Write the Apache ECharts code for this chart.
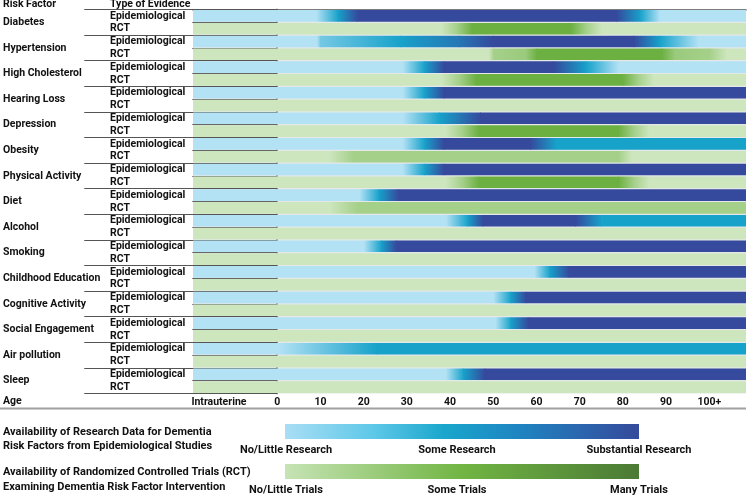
<!DOCTYPE html>
<html><head><meta charset="utf-8">
<script src="https://cdn.jsdelivr.net/npm/echarts@6/dist/echarts.min.js"></script>
<style>html,body{margin:0;padding:0;background:#fff}#c{width:748px;height:495px}</style>
</head><body><div id="c"></div>
<script>
// ---------------- DATA ----------------
const riskFactors = ['Diabetes','Hypertension','High Cholesterol','Hearing Loss','Depression','Obesity','Physical Activity','Diet','Alcohol','Smoking','Childhood Education','Cognitive Activity','Social Engagement','Air pollution','Sleep'];
const evidenceTypes = ['Epidemiological','RCT'];
const ageTickValues = [-13.5,0,10,20,30,40,50,60,70,80,90,100];
const ageTickLabels = ['Intrauterine','0','10','20','30','40','50','60','70','80','90','100+'];
const ageStart = -19.5, ageEnd = 108.5;
// availability level stops [age, level]; level 0 = no/little, 0.5 = some, 1 = substantial / many
const epiStops = [
  [[-19.5,0],[9,0],[14,0.5],[18.5,1],[78.5,1],[84,0.5],[88.5,0],[108.5,0]],
  [[-19.5,0],[9.2,0],[9.9,0.2],[28.5,0.5],[42,0.75],[50,1],[82.5,1],[88.5,0.5],[97.5,0],[108.5,0]],
  [[-19.5,0],[29,0],[34,0.5],[38.5,1],[64,1],[71.5,0.5],[79,0],[108.5,0]],
  [[-19.5,0],[29,0],[34,0.5],[38.5,1],[108.5,1]],
  [[-19.5,0],[29,0],[37.5,0.5],[47,1],[108.5,1]],
  [[-19.5,0],[29,0],[34,0.5],[38.5,1],[58.5,1],[64.5,0.5],[108.5,0.5]],
  [[-19.5,0],[29,0],[34,0.5],[38.5,1],[108.5,1]],
  [[-19.5,0],[19,0],[23.5,0.5],[28,1],[108.5,1]],
  [[-19.5,0],[39,0],[44,0.5],[47.5,1],[69,1],[75,0.5],[108.5,0.5]],
  [[-19.5,0],[20,0],[24,0.5],[27.5,1],[108.5,1]],
  [[-19.5,0],[59.5,0],[63,0.5],[67.5,1],[108.5,1]],
  [[-19.5,0],[50,0],[54,0.5],[57.5,1],[108.5,1]],
  [[-19.5,0],[50.5,0],[54,0.5],[58,1],[108.5,1]],
  [[-19.5,0],[0,0],[23,0.5],[108.5,0.5]],
  [[-19.5,0],[39,0],[43,0.5],[48,1],[108.5,1]]
];
const rctStops = [
  [[-19.5,0],[38,0],[45,0.5],[68,0.5],[75,0],[108.5,0]],
  [[-19.5,0],[49,0],[50,0.25],[57.5,0.3],[60,0.5],[89,0.5],[92,0.3],[100,0.25],[104,0],[108.5,0]],
  [[-19.5,0],[38,0],[46,0.5],[80,0.5],[87,0],[108.5,0]],
  [[-19.5,0],[108.5,0]],
  [[-19.5,0],[39,0],[46.5,0.5],[79,0.5],[86,0],[108.5,0]],
  [[-19.5,0],[12,0],[17.5,0.25],[79,0.25],[82,0],[108.5,0]],
  [[-19.5,0],[39,0],[46.5,0.5],[79,0.5],[86,0],[108.5,0]],
  [[-19.5,0],[12,0],[18.5,0.25],[108.5,0.25]],
  [[-19.5,0],[108.5,0]],
  [[-19.5,0],[108.5,0]],
  [[-19.5,0],[108.5,0]],
  [[-19.5,0],[108.5,0]],
  [[-19.5,0],[108.5,0]],
  [[-19.5,0],[108.5,0]],
  [[-19.5,0],[108.5,0]]
];

// ---------------- STYLE ----------------
const FONT = "Roboto,'Liberation Sans',Arial,sans-serif";
const FS = 10.5;
const bluePal = [[0,[180,226,245]],[0.5,[23,162,202]],[1,[53,73,157]]];
const greenPal = [[0,[205,230,190]],[0.25,[165,208,138]],[0.5,[108,176,66]],[1,[74,122,51]]];

function colorAt(pal, l){
  for (let i=0;i<pal.length-1;i++){
    const a=pal[i], b=pal[i+1];
    if (l>=a[0] && l<=b[0]){
      const t=(l-a[0])/(b[0]-a[0]);
      const c=a[1].map((v,j)=>Math.round(v+(b[1][j]-v)*t));
      return 'rgb('+c.join(',')+')';
    }
  }
  const last = l<pal[0][0]?pal[0]:pal[pal.length-1];
  return 'rgb('+last[1].join(',')+')';
}
function gradStops(pal,l0,l1){
  if (l0===l1){const c=colorAt(pal,l0);return [{offset:0,color:c},{offset:1,color:c}];}
  const s=[{offset:0,color:colorAt(pal,l0)}];
  const lo=Math.min(l0,l1), hi=Math.max(l0,l1);
  pal.forEach(k=>{ if(k[0]>lo && k[0]<hi){ s.push({offset:(k[0]-l0)/(l1-l0),color:colorAt(pal,k[0])}); } });
  s.push({offset:1,color:colorAt(pal,l1)});
  s.sort((a,b)=>a.offset-b.offset);
  return s;
}

// rows: each factor -> epi row, rct row
const rowLabels = [];
const segData = [];
riskFactors.forEach((f,i)=>{
  [epiStops[i], rctStops[i]].forEach((stops,k)=>{
    const row = rowLabels.length;
    rowLabels.push(evidenceTypes[k]);
    for (let j=0;j<stops.length-1;j++){
      segData.push([stops[j][0], row, stops[j+1][0], stops[j][1], stops[j+1][1], k]);
    }
  });
});

function renderItem(params, api){
  const x0=api.value(0), row=api.value(1), x1=api.value(2), l0=api.value(3), l1=api.value(4), kind=api.value(5);
  const p0=api.coord([x0,row]), p1=api.coord([x1,row]);
  const bh=api.size([0,1])[1];
  const h=bh-1.2;
  const pal = kind===0?bluePal:greenPal;
  return {type:'rect', shape:{x:p0[0], y:p0[1]-h/2, width:p1[0]-p0[0]+0.7, height:h},
    style:{fill:new echarts.graphic.LinearGradient(0,0,1,0,gradStops(pal,l0,l1))}};
}

const chart = echarts.init(document.getElementById('c'), null, {renderer:'canvas'});
const bold = {fontFamily:FONT, fontWeight:'bold', fontSize:FS, color:'#111'};
const legBlue = new echarts.graphic.LinearGradient(0,0,1,0,[
  {offset:0,color:'#a9def5'},{offset:0.25,color:'#5ec8e8'},{offset:0.45,color:'#1aa6cc'},{offset:0.65,color:'#1e86c2'},{offset:1,color:'#364a9c'}]);
const legGreen = new echarts.graphic.LinearGradient(0,0,1,0,[
  {offset:0,color:'#c6e3b5'},{offset:0.5,color:'#71b543'},{offset:1,color:'#4b7a35'}]);
const tfont = 'bold '+FS+'px '+FONT;
const lfont = 'bold 11px '+FONT;

chart.setOption({
  backgroundColor:'#fff',
  animation:false,
  grid:{left:193, right:2, top:9.5, bottom:101.5, show:true, backgroundColor:'#e4e8e8', borderWidth:0,
        containLabel:false, outerBoundsMode:'none'},
  xAxis:[
    {type:'value', min:ageStart, max:ageEnd, position:'bottom',
     axisLine:{show:false}, axisTick:{show:false}, splitLine:{show:false},
     axisLabel:{customValues:ageTickValues, margin:3, hideOverlap:false, showMinLabel:true, showMaxLabel:true, ...bold,
       formatter:v=>{const i=ageTickValues.indexOf(v);return i>=0?ageTickLabels[i]:'';}}},
    {type:'value', min:ageStart, max:ageEnd, position:'top',
     axisLine:{show:true, lineStyle:{color:'#555', width:1.5}}, axisTick:{show:false}, axisLabel:{show:false}, splitLine:{show:false}}
  ],
  yAxis:[
    {type:'category', data:rowLabels, inverse:true, position:'left', offset:0,
     axisLine:{show:true, lineStyle:{color:'#a6a6a6', width:2}},
     axisTick:{show:true, length:85, interval:0, lineStyle:{color:'#666', width:1}},
     axisLabel:{align:'left', margin:83, interval:0, ...bold}},
    {type:'category', data:riskFactors, inverse:true, position:'left', offset:0,
     axisLine:{show:false},
     axisTick:{show:true, length:193, interval:0, lineStyle:{color:'#555', width:1}},
     axisLabel:{align:'left', margin:190, interval:0, ...bold}}
  ],
  series:[{type:'custom', renderItem:renderItem, data:segData, xAxisIndex:0, yAxisIndex:0,
    encode:{x:[0,2], y:1}, clip:true}],
  graphic:[
    {type:'text', x:3, y:4.5, style:{text:'Risk Factor', font:tfont, fill:'#111', verticalAlign:'middle'}},
    {type:'text', x:110, y:4.5, style:{text:'Type of Evidence', font:tfont, fill:'#111', verticalAlign:'middle'}},
    {type:'text', x:3, y:401, style:{text:'Age', font:tfont, fill:'#111', verticalAlign:'middle'}},
    {type:'line', shape:{x1:0,y1:408.5,x2:746,y2:408.5}, style:{stroke:'#a0a0a0', lineWidth:2}},
    {type:'text', left:3, top:425, style:{text:'Availability of Research Data for Dementia\nRisk Factors from Epidemiological Studies', font:lfont, fill:'#111', lineHeight:14}},
    {type:'text', left:3, top:465, style:{text:'Availability of Randomized Controlled Trials (RCT)\nExamining Dementia Risk Factor Intervention', font:lfont, fill:'#111', lineHeight:15}},
    {type:'rect', shape:{x:285,y:424,width:354,height:15}, style:{fill:legBlue}},
    {type:'rect', shape:{x:285,y:464,width:354,height:15}, style:{fill:legGreen}},
    {type:'text', x:286, y:450, style:{text:'No/Little Research', font:lfont, fill:'#111', align:'center', verticalAlign:'middle'}},
    {type:'text', x:457, y:450, style:{text:'Some Research', font:lfont, fill:'#111', align:'center', verticalAlign:'middle'}},
    {type:'text', x:639, y:450, style:{text:'Substantial Research', font:lfont, fill:'#111', align:'center', verticalAlign:'middle'}},
    {type:'text', x:286, y:490, style:{text:'No/Little Trials', font:lfont, fill:'#111', align:'center', verticalAlign:'middle'}},
    {type:'text', x:457, y:490, style:{text:'Some Trials', font:lfont, fill:'#111', align:'center', verticalAlign:'middle'}},
    {type:'text', x:639, y:490, style:{text:'Many Trials', font:lfont, fill:'#111', align:'center', verticalAlign:'middle'}}
  ]
});
</script></body></html>
